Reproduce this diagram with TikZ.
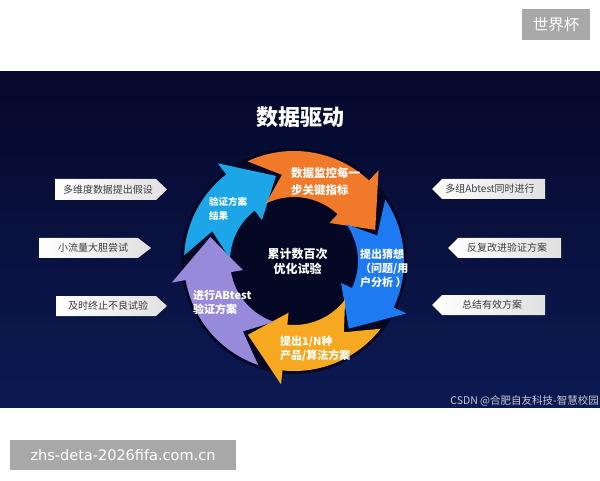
\documentclass[tikz,border=0pt]{standalone}
\usepackage{fontspec}
\setmainfont{Noto Sans CJK SC}
\newfontfamily\dejavu{DejaVu Sans}
\definecolor{panelTop}{RGB}{6,8,44}
\definecolor{panelBot}{RGB}{12,26,82}
\definecolor{halo}{RGB}{5,8,36}
\definecolor{cOrange}{RGB}{240,122,42}
\definecolor{cBlue}{RGB}{30,122,240}
\definecolor{cYellow}{RGB}{246,168,32}
\definecolor{cPurple}{RGB}{152,138,218}
\definecolor{cCyan}{RGB}{28,166,232}
\definecolor{boxText}{RGB}{60,60,64}
\definecolor{wmGray}{RGB}{168,168,168}
\definecolor{csdnGray}{RGB}{200,200,210}
\newcommand\carrow[3]{%
  \pgfmathsetmacro\tOut{#1+7}%
  \pgfmathsetmacro\tIn{#1+8}%
  \pgfmathsetmacro\tNotch{#1-10}%
  \pgfmathsetmacro\hb{#2+20}%
  \pgfmathsetmacro\tp{#2-6}%
  \fill[#3] (\tOut:110) arc[start angle=\tOut, end angle=\hb, radius=110]
    -- (\hb:124) -- (\tp:87) -- (\hb:52) -- (\hb:64)
    arc[start angle=\hb, end angle=\tIn, radius=64] -- (\tNotch:87) -- cycle;}
\tikzset{
  arrtext/.style={anchor=west, align=left, inner sep=0pt, text=white, font=\fontsize{11}{14}\selectfont\bfseries},
  boxtext/.style={inner sep=0pt, text=boxText, font=\fontsize{10}{12}\selectfont},
  calloutfill/.style={left color=white, right color=black!12},
}
\begin{document}
\begin{tikzpicture}[x=1pt,y=1pt]
\useasboundingbox (0,0) rectangle (600,480);
\fill[white] (0,0) rectangle (600,480);
% dark panel
\shade[top color=panelTop, bottom color=panelBot] (0,73) rectangle (600,408);
% watermark boxes
\fill[wmGray] (522,440) rectangle (590,471);
\node[text=white, font=\fontsize{15.5}{17}\selectfont, inner sep=0pt] (wc) at (556,455.5) {世界杯};
\fill[wmGray] (10,10) rectangle (236,40);
\node[text=white, font=\dejavu\fontsize{14.5}{17}\selectfont, inner sep=0pt] (url) at (123,25) {zhs-deta-2026fifa.com.cn};
% title
\node[text=white, font=\fontsize{22}{24}\selectfont\bfseries, inner sep=0pt] (title) at (300,363) {数据驱动};
% ring
\begin{scope}[shift={(294,219)}]
  \fill[halo] (0,0) circle[radius=113];
  \carrow{170}{108}{cCyan}
  \carrow{108}{27}{cOrange}
  \carrow{27}{-45}{cBlue}
  \carrow{-45}{-116}{cYellow}
  \carrow{-116}{-190}{cPurple}
\end{scope}
% arrow texts
\node[arrtext, font=\fontsize{9.5}{14.5}\selectfont\bfseries] (tcyan) at (209,271) {验证方案\\结果};
\node[arrtext, font=\fontsize{11.5}{16.5}\selectfont\bfseries] (torange) at (291,298.5) {数据监控每一\\步关键指标};
\node[arrtext] (tblue) at (360,212) {提出猜想\\（问题/用\\户分析 ）};
\node[arrtext] (tyellow) at (280,131) {提出1/N种\\产品/算法方案};
\node[arrtext] (tpurple) at (193,178) {进行ABtest\\验证方案};
\node[inner sep=0pt, text=white, align=center, font=\fontsize{12}{15}\selectfont\bfseries] (center) at (297.5,218.5) {累计数百次\\优化试验};
% left callouts
\fill[calloutfill] (55,301) -- (156,301) -- (167,290.5) -- (156,280) -- (55,280) -- cycle;
\node[boxtext] (l1) at (108,290.5) {多维度数据提出假设};
\fill[calloutfill] (39,242) -- (138,242) -- (151,232) -- (138,222) -- (39,222) -- cycle;
\node[boxtext] (l2) at (93,232) {小流量大胆尝试};
\fill[calloutfill] (56,184) -- (156,184) -- (167,174) -- (156,164) -- (56,164) -- cycle;
\node[boxtext] (l3) at (108,174) {及时终止不良试验};
% right callouts
\fill[calloutfill] (432,291) -- (442,301) -- (545,301) -- (545,281) -- (442,281) -- cycle;
\node[boxtext] (r1) at (490,291) {多组Abtest同时进行};
\fill[calloutfill] (448,232) -- (458,242) -- (561,242) -- (561,222) -- (458,222) -- cycle;
\node[boxtext] (r2) at (507,232) {反复改进验证方案};
\fill[calloutfill] (432,175) -- (442,185) -- (545,185) -- (545,165) -- (442,165) -- cycle;
\node[boxtext] (r3) at (492,175) {总结有效方案};
% csdn mark
\node[anchor=east, inner sep=0pt, text=csdnGray, font=\fontsize{10.5}{12}\selectfont] (csdn) at (599,79) {CSDN @合肥自友科技-智慧校园};
\end{tikzpicture}
\end{document}
